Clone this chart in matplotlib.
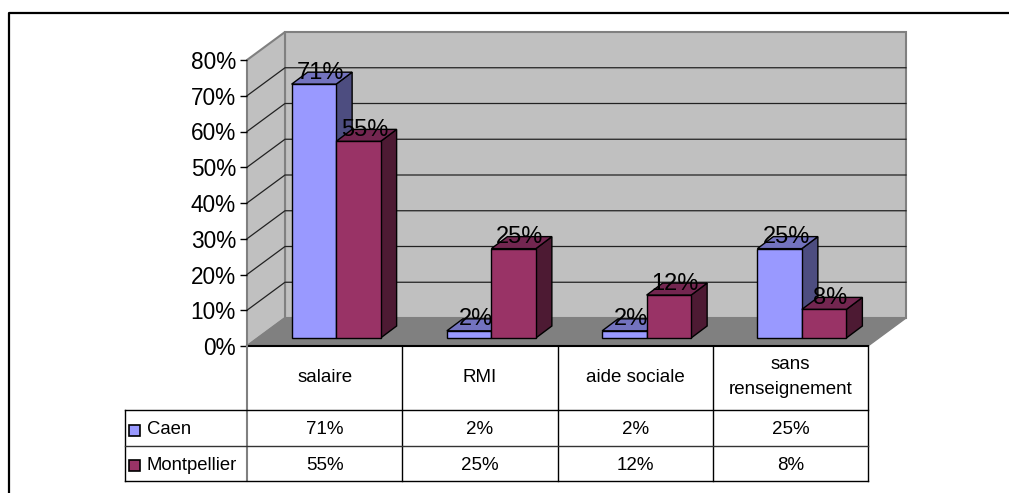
import matplotlib
matplotlib.use('Agg')
import matplotlib.pyplot as plt
from matplotlib.patches import Polygon, Rectangle

categories = ['salaire', 'RMI', 'aide sociale', 'sans\nrenseignement']
series_names = ['Caen', 'Montpellier']
caen = [71, 2, 2, 25]
montpellier = [55, 25, 12, 8]
y_ticks = [0, 10, 20, 30, 40, 50, 60, 70, 80]

W, H = 1009, 493
LEFT, RIGHT = 247, 868      # front edge of the floor, px
BASE, TOP = 346, 60         # 0% and 80% on the front plane, px

# depth of the box, in data units
DX = 38 / ((RIGHT - LEFT) / 4)
DY = 28 / ((BASE - TOP) / 80)

plt.rcParams['font.family'] = ['Liberation Sans', 'DejaVu Sans']

fig = plt.figure(figsize=(W / 100, H / 100), dpi=100)
ax = fig.add_axes([LEFT / W, 1 - BASE / H, (RIGHT - LEFT) / W, (BASE - TOP) / H])
ax.set_xlim(0, 4)
ax.set_ylim(0, 80)
ax.patch.set_visible(False)
for s in ax.spines.values():
    s.set_visible(False)
ax.set_xticks([])
ax.set_yticks(y_ticks)
ax.set_yticklabels([f'{v}%' for v in y_ticks], fontsize=16.3)
ax.tick_params(axis='y', length=5, width=1, pad=3)

px_x = 4 / (RIGHT - LEFT)
px_y = 80 / (BASE - TOP)


def poly(pts, fc, ec='black', lw=1.0, z=2):
    ax.add_patch(Polygon(pts, closed=True, fc=fc, ec=ec, lw=lw, zorder=z, clip_on=False))


# walls and floor
poly([(DX, 0 + DY), (4 + DX, DY), (4 + DX, 80 + DY), (DX, 80 + DY)], '#c0c0c0', '#808080', 1.5, 1)
poly([(0, 0), (DX, DY), (DX, 80 + DY), (0, 80)], '#c0c0c0', '#808080', 1.5, 1)
poly([(0, 0), (4, 0), (4 + DX, DY), (DX, DY)], '#808080', '#808080', 1, 1)

# gridlines on the walls
for v in y_ticks[1:-1]:
    ax.plot([0, DX, 4 + DX], [v, v + DY, v + DY], color='#222222', lw=0.9, zorder=1.5, clip_on=False)
ax.plot([0, 4], [0, 0], color='black', lw=1.5, zorder=3, clip_on=False)

# bars
BAR_W = 44.5 * px_x
OFF_X = 11.5 * px_x
OFF_Y = 8 * px_y
BAR_DX = 16 * px_x
BAR_DY = 12 * px_y


def bar3d(x0, val, front, top, side):
    x1 = x0 + BAR_W
    y0 = OFF_Y
    y1 = OFF_Y + val
    poly([(x1, y0), (x1 + BAR_DX, y0 + BAR_DY), (x1 + BAR_DX, y1 + BAR_DY), (x1, y1)], side)
    poly([(x0, y1), (x1, y1), (x1 + BAR_DX, y1 + BAR_DY), (x0 + BAR_DX, y1 + BAR_DY)], top)
    poly([(x0, y0), (x1, y0), (x1, y1), (x0, y1)], front)


for i in range(4):
    centre = i + 0.5 + OFF_X
    bar3d(centre - BAR_W, caen[i], '#9999ff', '#7373bf', '#4d4d80')
    bar3d(centre, montpellier[i], '#993366', '#732650', '#4d1a33')

# data labels sit over the bar tops
for i in range(4):
    centre = i + 0.5 + OFF_X
    ax.text(centre - BAR_W / 2 + BAR_DX / 2 - 1 * px_x, caen[i] + OFF_Y + BAR_DY / 2 + 1.5, f'{caen[i]}%',
            ha='center', va='center', fontsize=17, zorder=5, clip_on=False)
    ax.text(centre + BAR_W / 2 + BAR_DX / 2 - 2 * px_x, montpellier[i] + OFF_Y + BAR_DY / 2 + 1.5, f'{montpellier[i]}%',
            ha='center', va='center', fontsize=17, zorder=5, clip_on=False)

# data table under the chart
ROW1 = -(410 - BASE) * px_y
ROW2 = -(446 - BASE) * px_y
ROW3 = -(481 - BASE) * px_y
TAB_L = -(LEFT - 125) * px_x
TXT_SHIFT = -2 * px_y


def tline(xs, ys, color='black', lw=1.0):
    ax.plot(xs, ys, color=color, lw=lw, zorder=3, clip_on=False)


for i in range(1, 5):
    tline([i, i], [0, ROW3])
tline([0, 0], [0, ROW3], '#808080', 1.5)
tline([TAB_L, TAB_L], [ROW1, ROW3])
tline([TAB_L, 4], [ROW1, ROW1])
tline([TAB_L, 4], [ROW2, ROW2], '#333333')
tline([TAB_L, 4], [ROW3, ROW3])

for i, c in enumerate(categories):
    ax.text(i + 0.5, ROW1 / 2 + 1 * px_y, c, ha='center', va='center', fontsize=13.5, linespacing=1.6, clip_on=False)
    ax.text(i + 0.5, (ROW1 + ROW2) / 2 + TXT_SHIFT, f'{caen[i]}%', ha='center', va='center', fontsize=13.5, clip_on=False)
    ax.text(i + 0.5, (ROW2 + ROW3) / 2 + TXT_SHIFT, f'{montpellier[i]}%', ha='center', va='center', fontsize=13.5, clip_on=False)

# legend keys in the table
KEY_X = -(LEFT - 129.5) * px_x
for name, col, lo, hi in [(series_names[0], '#9999ff', ROW1, ROW2), (series_names[1], '#993366', ROW2, ROW3)]:
    mid = (lo + hi) / 2 + TXT_SHIFT
    ax.add_patch(Rectangle((KEY_X, mid - 5.5 * px_y), 11 * px_x, 11 * px_y, fc=col, ec='black', lw=1.2, zorder=3, clip_on=False))
    ax.text(-(LEFT - 147) * px_x, mid, name, ha='left', va='center', fontsize=13.3, clip_on=False)

# frame: left and top edges only, the rest is cut off by the image
fig.add_artist(plt.Line2D([9 / W, 9 / W, 1], [0, 1 - 13 / H, 1 - 13 / H], color='black', lw=1.6))

fig.savefig('out.png', dpi=100)
